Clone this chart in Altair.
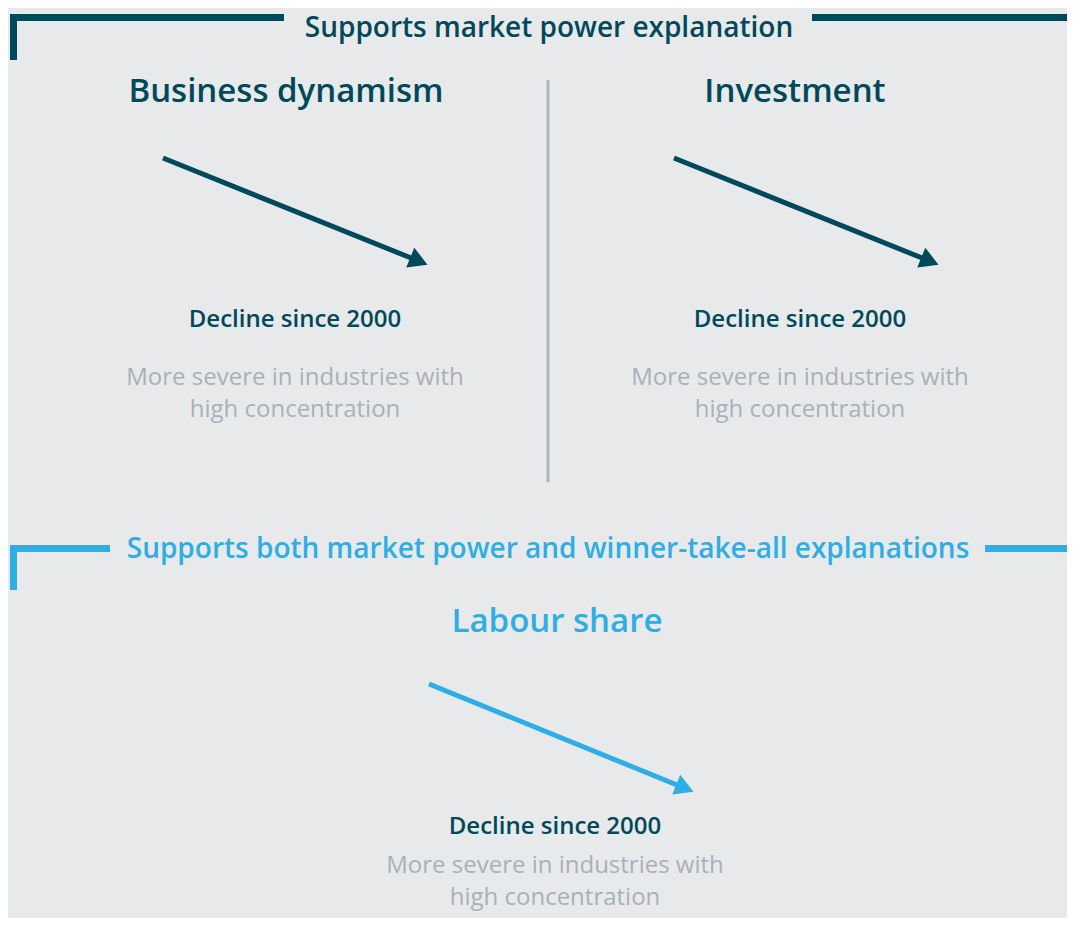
import altair as alt
import pandas as pd

# ---- content -------------------------------------------------------------
section_titles = ["Supports market power explanation",
                  "Supports both market power and winner-take-all explanations"]
section_colors = ["#00495a", "#2eaee4"]

panel_titles = ["Business dynamism", "Investment", "Labour share"]
panel_colors = ["#00495a", "#00495a", "#2eaee4"]
finding = "Decline since 2000"
detail_line1 = "More severe in industries with"
detail_line2 = "high concentration"

# ---- layout (page pixel coordinates) -------------------------------------
W, H = 1059, 910
X0, Y0 = 8, 8
BG = "#e8e9eb"
DARK = "#00495a"
GRAY = "#a9b1b8"
FONT = "Open Sans"

sec_title_x = [549, 548]
sec_title_y = [29, 550]

panel_x = [286, 795, 557]
panel_y = [92, 92, 622]
arrow_x1 = [163, 674, 429]
arrow_y1 = [158, 158, 684]
arrow_x2 = [416, 927, 682]
arrow_y2 = [260, 260, 787]
finding_x = [295, 800, 555]
finding_y = [320, 320, 827]
detail_y1 = [378, 378, 866]
detail_y2 = [410, 410, 898]

# bracket segments: x, x2, y, y2, colour
br_x = [10, 13.5, 812, 10, 13.5, 985]
br_x2 = [284, 13.5, 1075, 110, 13.5, 1075]
br_y = [17.5, 14, 17.5, 548.5, 545, 548.5]
br_y2 = [17.5, 60, 17.5, 548.5, 590, 548.5]
br_c = [DARK, DARK, DARK, section_colors[1], section_colors[1], section_colors[1]]

xs = alt.Scale(domain=[X0, X0 + W], nice=False, zero=False)
ys = alt.Scale(domain=[Y0 + H, Y0], nice=False, zero=False)


def X(f="x"):
    return alt.X(f"{f}:Q", scale=xs, axis=None)


def Y(f="y"):
    return alt.Y(f"{f}:Q", scale=ys, axis=None)


brackets = pd.DataFrame({"x": br_x, "x2": br_x2, "y": br_y, "y2": br_y2, "c": br_c})
bracket_layer = alt.Chart(brackets).mark_rule(strokeWidth=7, strokeCap="butt").encode(
    x=X(), x2="x2:Q", y=Y(), y2="y2:Q",
    color=alt.Color("c:N", scale=None))

divider = pd.DataFrame({"x": [548], "y": [80], "y2": [482]})
divider_layer = alt.Chart(divider).mark_rule(strokeWidth=3, color="#adb3b9").encode(
    x=X(), y=Y(), y2="y2:Q")

sec = pd.DataFrame({"t": section_titles, "x": sec_title_x, "y": sec_title_y,
                    "c": section_colors})
sec_layer = alt.Chart(sec).mark_text(font=FONT, fontSize=28, fontWeight=600,
                                     baseline="middle", align="center").encode(
    x=X(), y=Y(), text="t:N", color=alt.Color("c:N", scale=None))

pan = pd.DataFrame({"t": panel_titles, "x": panel_x, "y": panel_y, "c": panel_colors})
pan_layer = alt.Chart(pan).mark_text(font=FONT, fontSize=33, fontWeight=600,
                                     baseline="middle", align="center").encode(
    x=X(), y=Y(), text="t:N", color=alt.Color("c:N", scale=None))

arrows = pd.DataFrame({"x": arrow_x1, "y": arrow_y1, "x2": arrow_x2, "y2": arrow_y2,
                       "c": panel_colors})
shaft_layer = alt.Chart(arrows).mark_rule(strokeWidth=5, strokeCap="butt").encode(
    x=X(), y=Y(), x2="x2:Q", y2="y2:Q", color=alt.Color("c:N", scale=None))
head_layer = alt.Chart(arrows).mark_point(shape="triangle", angle=112, size=460,
                                          filled=True, opacity=1).encode(
    x=X("x2"), y=Y("y2"), color=alt.Color("c:N", scale=None))

rows = []
for i in range(3):
    rows.append({"t": finding, "x": finding_x[i], "y": finding_y[i], "k": "f"})
    rows.append({"t": detail_line1, "x": finding_x[i], "y": detail_y1[i], "k": "d"})
    rows.append({"t": detail_line2, "x": finding_x[i], "y": detail_y2[i], "k": "d"})
txt = pd.DataFrame(rows)
find_layer = alt.Chart(txt).transform_filter(alt.datum.k == "f").mark_text(
    font=FONT, fontSize=24, fontWeight=600, color=DARK,
    baseline="middle", align="center").encode(x=X(), y=Y(), text="t:N")
det_layer = alt.Chart(txt).transform_filter(alt.datum.k == "d").mark_text(
    font=FONT, fontSize=24, color=GRAY,
    baseline="middle", align="center").encode(x=X(), y=Y(), text="t:N")

chart = alt.layer(bracket_layer, divider_layer, sec_layer, pan_layer, shaft_layer,
                  head_layer, find_layer, det_layer).properties(
    width=W, height=H, background=BG, padding=0,
    autosize=alt.AutoSizeParams(type="none")
).configure_view(stroke=None)

chart.save("out.html", embed_options={"renderer": "svg", "actions": False})
